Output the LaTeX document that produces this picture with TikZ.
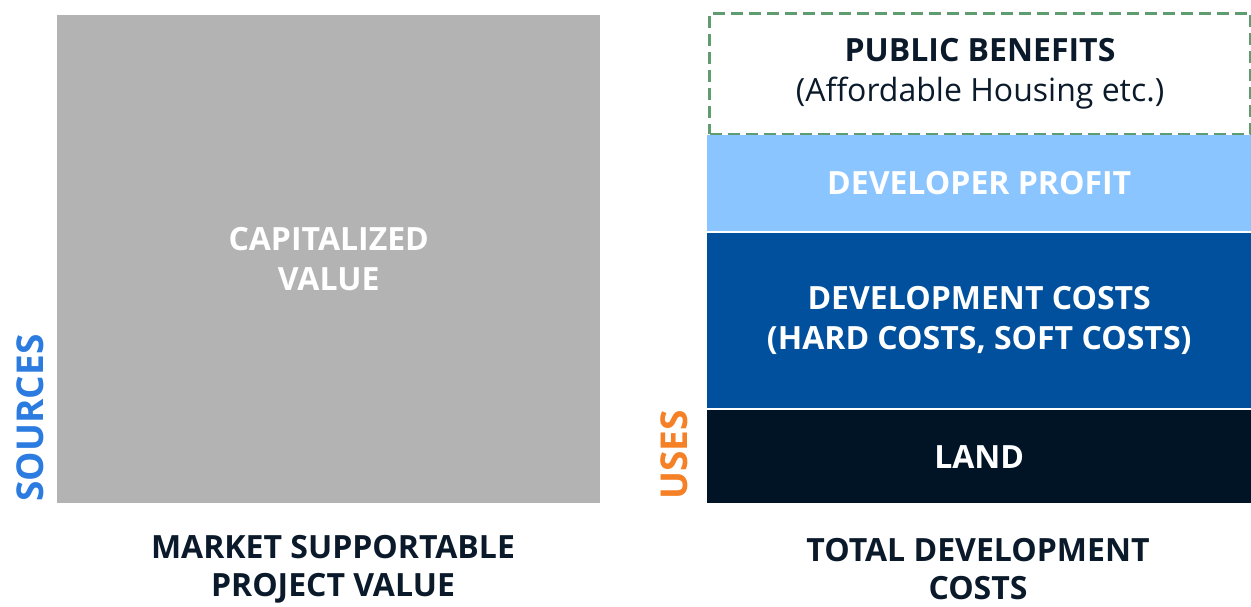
\documentclass[tikz,border=0pt]{standalone}
\usepackage{fontspec}
\setmainfont{Open Sans}
\usetikzlibrary{positioning}
\definecolor{capgray}{HTML}{B3B3B3}
\definecolor{profitblue}{HTML}{8BC5FF}
\definecolor{costblue}{HTML}{00509E}
\definecolor{landnavy}{HTML}{001426}
\definecolor{benefitgreen}{HTML}{5F9D70}
\definecolor{sourceblue}{HTML}{2B7BE0}
\definecolor{useorange}{HTML}{F58025}
\definecolor{inkdark}{HTML}{0B1A2B}

\tikzset{
  block/.style={rectangle, inner sep=0pt, anchor=north west, align=center,
    text=white, font=\bfseries\fontsize{32}{40}\selectfont},
  caption/.style={align=center, text=inkdark, font=\bfseries\fontsize{32}{38}\selectfont},
  sidelabel/.style={rotate=90, font=\bfseries\fontsize{37}{40}\selectfont}
}

\begin{document}
\begin{tikzpicture}[x=1pt, y=-1pt]
  \useasboundingbox (0,0) rectangle (1251,607);

  % sources column
  \node[block, fill=capgray, minimum width=543pt, minimum height=488pt] at (57,15) (capital) {CAPITALIZED\\VALUE};
  \node[sidelabel, text=sourceblue] at (30,418) (sources) {SOURCES};
  \node[caption] at (333,569) (market) {MARKET SUPPORTABLE\\PROJECT VALUE};

  % uses column, stacked from top
  \node[block, draw=benefitgreen, line width=3pt, dash pattern=on 12pt off 6pt, text=inkdark,
        minimum width=541pt, minimum height=121pt] at (708,12) (benefits)
        {PUBLIC BENEFITS\\{\mdseries(Affordable Housing etc.)}};
  \node[block, fill=profitblue, minimum width=544pt, minimum height=96pt] at (707,135) (profit) {DEVELOPER PROFIT};
  \node[block, fill=costblue, minimum width=544pt, minimum height=175pt] at (707,233) (devcost)
        {DEVELOPMENT COSTS\\(HARD COSTS, SOFT COSTS)};
  \node[block, fill=landnavy, minimum width=544pt, minimum height=93pt] at (707,410) (land) {LAND};
  \node[sidelabel, text=useorange] at (674,455) (uses) {USES};
  \node[caption] at (978,569) (total) {TOTAL DEVELOPMENT\\COSTS};
\end{tikzpicture}
\end{document}
